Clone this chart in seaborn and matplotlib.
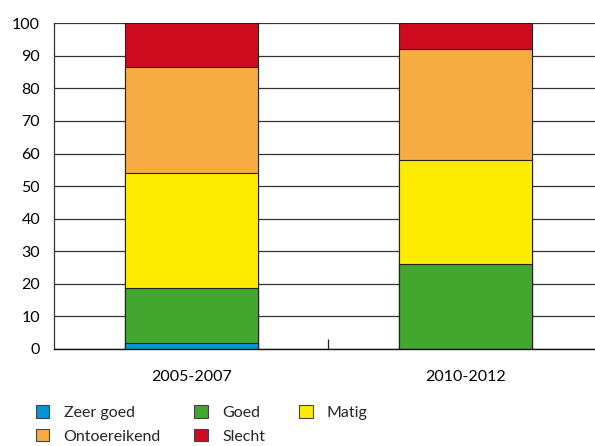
"""Stacked bar chart: beoordeling per periode."""

import numpy as np
import pandas as pd
import matplotlib
matplotlib.use("Agg")
import matplotlib.pyplot as plt
import seaborn as sns
from matplotlib.patches import Patch

sns.set_style("white")
plt.rcParams["font.family"] = ["Lato", "DejaVu Sans"]

# Data (percentages per class)
periods = ["2005-2007", "2010-2012"]
classes = ["Zeer goed", "Goed", "Matig", "Ontoereikend", "Slecht"]
zeer_goed = [1.8, 0.0]
goed = [16.8, 26.0]
matig = [35.3, 32.0]
ontoereikend = [32.6, 34.1]
slecht = [13.5, 7.9]
colors = ["#0096D8", "#43A62F", "#FEEC00", "#F6AC42", "#CE0A1F"]

df = pd.DataFrame(
    {"period": periods, "Zeer goed": zeer_goed, "Goed": goed, "Matig": matig,
     "Ontoereikend": ontoereikend, "Slecht": slecht}
)
cum = df[classes].cumsum(axis=1)

fig = plt.figure(figsize=(5.95, 4.46), dpi=100)
ax = fig.add_axes([0.0908, 0.2175, 0.9092, 0.7303])

# Draw from top layer down so lower layers overlay the cumulative bars
for cls, col in zip(reversed(classes), reversed(colors)):
    sns.barplot(
        x=df["period"], y=cum[cls], color=col, width=0.485,
        edgecolor="#222222", linewidth=0.8, saturation=1, ax=ax,
    )

ax.set_ylim(0, 100)
ax.set_xlim(-0.502, 1.473)
ax.set_yticks(np.arange(0, 101, 10))
ax.yaxis.grid(True, color="#333333", linewidth=0.9)
ax.set_axisbelow(True)
ax.set_xlabel("")
ax.set_ylabel("")

for s in ["top", "right"]:
    ax.spines[s].set_visible(False)
ax.spines["left"].set_color("#333333")
ax.spines["bottom"].set_color("#111111")
ax.spines["left"].set_linewidth(0.9)
ax.spines["bottom"].set_linewidth(1.0)

ax.tick_params(axis="y", length=0, pad=10, labelsize=11.5, colors="black")
ax.tick_params(axis="x", length=0, pad=15, labelsize=11.5, colors="black")
ax.set_xticks([0.5], minor=True)
ax.tick_params(axis="x", which="minor", bottom=True, direction="in",
               length=7.5, width=0.9, color="#222222")

handles = [Patch(facecolor=c, edgecolor="#444444", linewidth=0.8) for c in colors]
labels = classes
order = [0, 3, 1, 4, 2]
fig.legend(
    [handles[i] for i in order], [labels[i] for i in order],
    ncol=3, loc="upper left", bbox_to_anchor=(0.06, 0.092), frameon=False,
    fontsize=11.5, handlelength=0.85, handleheight=0.85, handletextpad=0.9,
    columnspacing=2.1, labelspacing=0.55, borderaxespad=0, borderpad=0,
)

plt.savefig("out.png", dpi=100)
